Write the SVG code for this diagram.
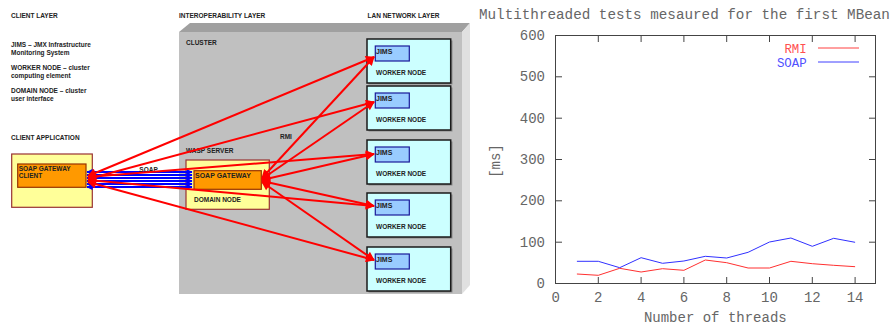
<svg xmlns="http://www.w3.org/2000/svg" width="893" height="326" viewBox="0 0 893 326">
<style>
.t{font-family:"Liberation Sans",Arial,sans-serif;font-weight:bold;font-size:6.5px;fill:#222}
.t7{font-family:"Liberation Sans",Arial,sans-serif;font-weight:bold;font-size:7px;fill:#222}
.wn{fill:#ccffff;stroke:#1a1a1a;stroke-width:1.5}
.ws{fill:#8a8a8a}
.jm{fill:#99ccff;stroke:#1a1a99;stroke-width:1.2}
.yl{fill:#ffff99;stroke:#993333;stroke-width:1.2}
.or{fill:#ff9900;stroke:#993300;stroke-width:1.2}
.red{stroke:#ff0000;stroke-width:2;fill:none;marker-start:url(#ar);marker-end:url(#ar)}
.blu{stroke:#0000ff;stroke-width:1.8;fill:none;marker-start:url(#ab);marker-end:url(#ab)}
.m{font-family:"Liberation Mono","DejaVu Sans Mono",monospace;font-size:14px;fill:#666}
.ax{stroke:#444;stroke-width:1;fill:none}
</style>
<defs>
<marker id="ar" viewBox="0 0 10 10" refX="9" refY="5" markerWidth="5" markerHeight="4.5" orient="auto-start-reverse" markerUnits="strokeWidth"><path d="M0,0 L10,5 L0,10 z" fill="#ff0000"/></marker>
<marker id="ab" viewBox="0 0 10 10" refX="9" refY="5" markerWidth="4" markerHeight="3.4" orient="auto-start-reverse" markerUnits="strokeWidth"><path d="M0,0 L10,5 L0,10 z" fill="#0000ff"/></marker>
</defs>
<rect width="893" height="326" fill="#ffffff"/>

<g id="legend-text">
<text class="t" x="11" y="17.6">CLIENT  LAYER</text>
<text class="t" x="11" y="46.6">JIMS – JMX Infrastructure</text>
<text class="t" x="11" y="55">Monitoring System</text>
<text class="t" x="11" y="70">WORKER NODE  – cluster</text>
<text class="t" x="11" y="78">computing element</text>
<text class="t" x="11" y="93">DOMAIN NODE  – cluster</text>
<text class="t" x="11" y="101.3">user interface</text>
<text class="t" x="11" y="139.6">CLIENT APPLICATION</text>
<text class="t" x="179" y="17.6">INTEROPERABILITY LAYER</text>
<text class="t" x="367.5" y="17.6">LAN NETWORK LAYER</text>
</g>

<g id="cluster">
<polygon points="179,32 190,23 470,23 462,32" fill="#a0a0a0"/>
<polygon points="462,32 470,23 470,285 462,294" fill="#e0e0e0"/>
<rect x="179" y="32" width="283" height="262" fill="#c0c0c0"/>
<text class="t" x="186" y="45">CLUSTER</text>
<text class="t" x="186" y="153">WASP SERVER</text>
<text class="t" x="280" y="139">RMI</text>
</g>

<g id="client">
<rect class="yl" x="11.7" y="154" width="80.6" height="53.3"/>
<rect class="or" x="17.7" y="164" width="68.3" height="23.3"/>
<text class="t" x="18.7" y="170.6">SOAP GATEWAY</text>
<text class="t" x="18.7" y="178.3">CLIENT</text>
</g>

<g id="domain-node">
<rect class="yl" x="186" y="160" width="83.3" height="49.3"/>
<rect class="or" x="194" y="170.7" width="67.3" height="18.6"/>
<text class="t7" x="195" y="177.5">SOAP GATEWAY</text>
<text class="t" x="194" y="201.6">DOMAIN NODE</text>
</g>

<g id="worker1">
<rect class="ws" x="368.5" y="40.5" width="84" height="44"/>
<rect class="wn" x="367" y="39" width="83.7" height="44"/>
<rect class="jm" x="375.3" y="46" width="34" height="15"/>
<text class="t7" x="376" y="54">JIMS</text>
<text class="t" x="376" y="74.5">WORKER NODE</text>
</g>
<g id="worker2">
<rect class="ws" x="368.5" y="87.5" width="84" height="44"/>
<rect class="wn" x="367" y="86" width="83.7" height="44"/>
<rect class="jm" x="375.3" y="93" width="34" height="15"/>
<text class="t7" x="376" y="101">JIMS</text>
<text class="t" x="376" y="121.5">WORKER NODE</text>
</g>
<g id="worker3">
<rect class="ws" x="368.5" y="141.5" width="84" height="44"/>
<rect class="wn" x="367" y="140" width="83.7" height="44"/>
<rect class="jm" x="375.3" y="147" width="34" height="15"/>
<text class="t7" x="376" y="155">JIMS</text>
<text class="t" x="376" y="175.5">WORKER NODE</text>
</g>
<g id="worker4">
<rect class="ws" x="368.5" y="194.5" width="84" height="44"/>
<rect class="wn" x="367" y="193" width="83.7" height="44"/>
<rect class="jm" x="375.3" y="200" width="34" height="15"/>
<text class="t7" x="376" y="208">JIMS</text>
<text class="t" x="376" y="228.5">WORKER NODE</text>
</g>
<g id="worker5">
<rect class="ws" x="368.5" y="248.5" width="84" height="44"/>
<rect class="wn" x="367" y="247" width="83.7" height="44"/>
<rect class="jm" x="375.3" y="254" width="34" height="15"/>
<text class="t7" x="376" y="262">JIMS</text>
<text class="t" x="376" y="282.5">WORKER NODE</text>
</g>

<g id="connectors">
<path class="blu" d="M87,172 L192,172"/>
<path class="blu" d="M87,175 L192,175"/>
<path class="blu" d="M87,178 L192,178"/>
<path class="blu" d="M87,181 L192,181"/>
<path class="blu" d="M87,184 L192,184"/>
<path class="blu" d="M87,187 L192,187"/>
<text class="t" x="139.3" y="171.5">SOAP</text>
<path class="red" d="M88,176 L374,57"/>
<path class="red" d="M88,179 L374,102"/>
<path class="red" d="M88,177 L374,154"/>
<path class="red" d="M88,180 L374,206"/>
<path class="red" d="M88,182 L374,260"/>
<path class="red" d="M262,178 L374,57"/>
<path class="red" d="M262,179 L374,102"/>
<path class="red" d="M262,180 L374,154"/>
<path class="red" d="M262,181 L374,206"/>
<path class="red" d="M262,182 L374,260"/>
</g>

<g id="chart">
<text class="m" x="479" y="19" style="font-size:14.27px">Multithreaded tests mesaured for the first MBean</text>
<rect class="ax" x="555.5" y="35.5" width="320" height="248"/>
<path class="ax" d="M555.5,242.2h6.5M555.5,200.8h6.5M555.5,159.5h6.5M555.5,118.2h6.5M555.5,76.8h6.5
M875.5,242.2h-6.5M875.5,200.8h-6.5M875.5,159.5h-6.5M875.5,118.2h-6.5M875.5,76.8h-6.5
M598.3,35.5v6.5M641.1,35.5v6.5M683.9,35.5v6.5M726.7,35.5v6.5M769.5,35.5v6.5M812.3,35.5v6.5M855.1,35.5v6.5
M598.3,283.5v-6.5M641.1,283.5v-6.5M683.9,283.5v-6.5M726.7,283.5v-6.5M769.5,283.5v-6.5M812.3,283.5v-6.5M855.1,283.5v-6.5"/>
<g class="m" text-anchor="end">
<text x="545" y="288">0</text>
<text x="545" y="246.7">100</text>
<text x="545" y="205.3">200</text>
<text x="545" y="164">300</text>
<text x="545" y="122.7">400</text>
<text x="545" y="81.3">500</text>
<text x="545" y="40">600</text>
</g>
<g class="m" text-anchor="middle">
<text x="555.7" y="302">0</text>
<text x="598.3" y="302">2</text>
<text x="641.1" y="302">4</text>
<text x="683.9" y="302">6</text>
<text x="726.7" y="302">8</text>
<text x="769.5" y="302">10</text>
<text x="812.3" y="302">12</text>
<text x="855.1" y="302">14</text>
<text x="715.3" y="322">Number of threads</text>
<text x="0" y="0" transform="translate(500,161) rotate(-90)">[ms]</text>
</g>
<text class="m" x="806.7" y="52.5" text-anchor="end" style="fill:#ff5050;font-size:12.4px">RMI</text>
<text class="m" x="806.7" y="66.5" text-anchor="end" style="fill:#5050ff;font-size:12.4px">SOAP</text>
<path d="M818,48H859" stroke="#ff4040" stroke-width="1"/>
<path d="M818,62H859" stroke="#4040ff" stroke-width="1"/>
<polyline fill="none" stroke="#ff3030" stroke-width="1" points="576.9,274 598.3,275.3 619.7,268.3 641.1,272 662.5,268.7 683.9,270.3 705.3,260 726.7,262.7 748.1,268 769.5,268 790.9,261.3 812.3,263.7 833.7,265.3 855.1,266.7"/>
<polyline fill="none" stroke="#3030ff" stroke-width="1" points="576.9,261.3 598.3,261.3 619.7,267.7 641.1,257.7 662.5,263.3 683.9,261 705.3,256.3 726.7,258 748.1,252.3 769.5,242 790.9,238 812.3,246.3 833.7,238.3 855.1,242.3"/>
</g>
</svg>
